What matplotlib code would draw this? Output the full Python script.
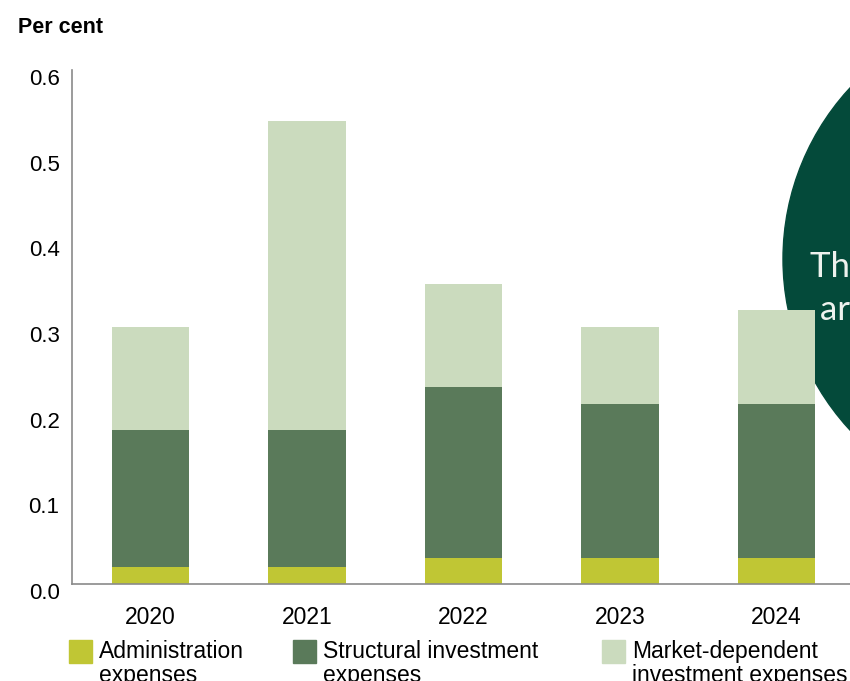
import matplotlib.pyplot as plt
import matplotlib.transforms as mtransforms
from matplotlib.patches import Ellipse, Rectangle
import numpy as np

# Expense ratios, per cent of assets
years = ['2020', '2021', '2022', '2023', '2024']
admin = [0.02, 0.02, 0.03, 0.03, 0.03]
structural = [0.16, 0.16, 0.20, 0.18, 0.18]
market = [0.12, 0.36, 0.12, 0.09, 0.11]

series_names = ['Administration\nexpenses',
                'Structural investment\nexpenses',
                'Market-dependent\ninvestment expenses']
series_colors = ['#C0C634', '#5A7A5A', '#CBDBBE']

W, H = 850, 681
fig = plt.figure(figsize=(W / 100, H / 100), dpi=100)
ax = fig.add_axes([72 / W, 1 - 584 / H, 1 - 72 / W, (584 - 70) / H])
ax.patch.set_visible(False)

# big callout circle sitting behind the bars
circle = Ellipse((1035 / W, 1 - 259 / H), 2 * 252 / W, 2 * 252 / H,
                 transform=fig.transFigure, color='#044A3A', zorder=-1)
fig.add_artist(circle)
fig.text(810 / W, 1 - 277 / H, 'The costs are', color='#EEF2EE',
         fontsize=25, family='Lato', va='baseline', ha='left')
fig.text(820 / W, 1 - 320 / H, 'are low', color='#EEF2EE',
         fontsize=25, family='Lato', va='baseline', ha='left')

x = np.arange(len(years))
bottom = np.zeros(len(years))
for vals, col in zip([admin, structural, market], series_colors):
    ax.bar(x, vals, width=0.495, bottom=bottom, color=col, zorder=2)
    bottom += np.array(vals)

ax.set_xlim(-0.503, 4.47)
ax.set_ylim(0, 0.6)
ax.set_yticks([0, 0.1, 0.2, 0.3, 0.4, 0.5, 0.6])
ax.set_yticklabels(['0.0', '0.1', '0.2', '0.3', '0.4', '0.5', '0.6'],
                   family='Liberation Sans', fontsize=16)
ax.set_xticks(x)
ax.set_xticklabels(years, family='Liberation Sans', fontsize=16.5)
ax.tick_params(axis='y', length=0, pad=9)
ax.tick_params(axis='x', length=0, pad=15.5)
shift = mtransforms.ScaledTranslation(0, -7 / 100, fig.dpi_scale_trans)
for lbl in ax.get_yticklabels():
    lbl.set_transform(lbl.get_transform() + shift)

for side in ['top', 'right']:
    ax.spines[side].set_visible(False)
for side in ['left', 'bottom']:
    ax.spines[side].set_color('#8A8A8A')
    ax.spines[side].set_linewidth(1.2)

fig.text(18 / W, 1 - 33 / H, 'Per cent', fontsize=15.5, weight='bold',
         family='Liberation Sans', va='baseline')

# legend drawn by hand along the bottom
for name, col, lx in zip(series_names, series_colors, [69, 293, 602]):
    fig.add_artist(Rectangle((lx / W, 1 - 663 / H), 23 / W, 23 / H,
                             transform=fig.transFigure, color=col))
    fig.text((lx + 30) / W, 1 - 640 / H, name, fontsize=16.5,
             family='Liberation Sans', va='top', ha='left',
             linespacing=1.05)

fig.savefig('out.png', dpi=100)
